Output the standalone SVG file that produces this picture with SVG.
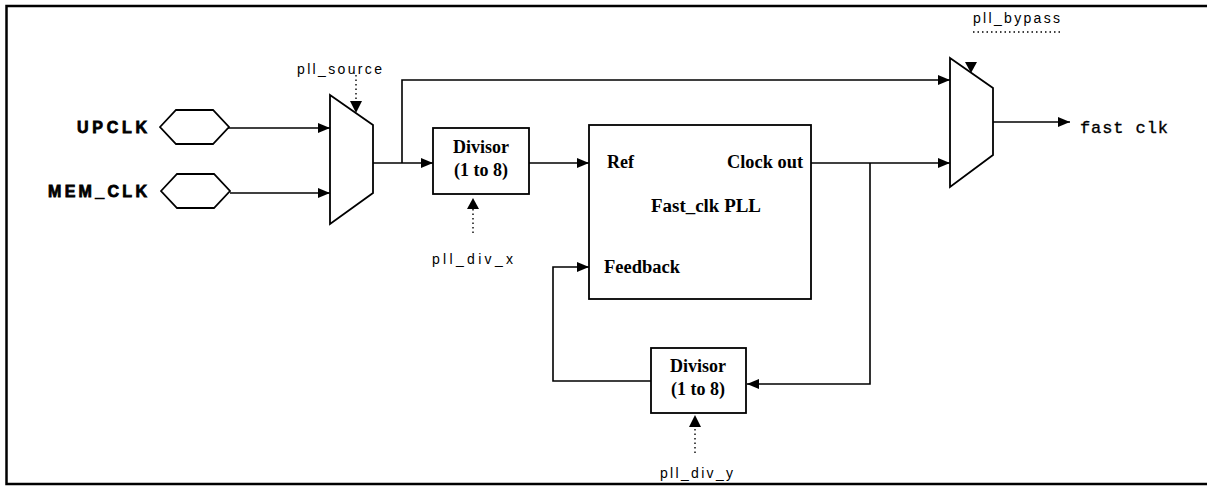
<svg xmlns="http://www.w3.org/2000/svg" width="1207" height="486" viewBox="0 0 1207 486">
<defs>
<style>
.ln{fill:none;stroke:#000;stroke-width:1.6}
.dot{fill:none;stroke:#000;stroke-width:1.4;stroke-dasharray:1.5,3}
.shape{fill:#fff;stroke:#000;stroke-width:1.8}
.sig{font-family:"Liberation Sans",Arial,sans-serif;font-weight:bold;font-size:16px;stroke:#000;stroke-width:0.8}
.ctl{font-family:"Liberation Sans",Arial,sans-serif;font-size:14px;fill:#000}
.blk{font-family:"Liberation Serif","Times New Roman",serif;font-weight:bold;font-size:18px;fill:#000}
.mono{font-family:"Liberation Mono","Courier New",monospace;font-size:17px;fill:#000;stroke:#000;stroke-width:0.35}
</style>
<marker id="arr" viewBox="0 0 12 10" refX="12" refY="5" markerWidth="12" markerHeight="10" orient="auto" markerUnits="userSpaceOnUse">
<path d="M0,0 L12,5 L0,10 z" fill="#000"/>
</marker>
</defs>
<rect width="1207" height="486" fill="#fff"/>
<rect x="6.5" y="6" width="1215" height="478" fill="none" stroke="#000" stroke-width="2.5"/>

<g id="connectors">
<path class="ln" d="M228,128 H330" marker-end="url(#arr)"/>
<path class="ln" d="M230,193 H330" marker-end="url(#arr)"/>
<path class="ln" d="M373,163 H433" marker-end="url(#arr)"/>
<path class="ln" d="M402,163 V80 H950" marker-end="url(#arr)"/>
<path class="ln" d="M529,163 H589" marker-end="url(#arr)"/>
<path class="ln" d="M811,163 H950" marker-end="url(#arr)"/>
<path class="ln" d="M870,163 V384 H747" marker-end="url(#arr)"/>
<path class="ln" d="M651,381 H553 V267 H589" marker-end="url(#arr)"/>
<path class="ln" d="M993,122 H1070" marker-end="url(#arr)"/>
<path class="dot" d="M356,75 V102"/>
<path d="M350,101 L362,101 L356,113 z" fill="#000"/>
<path class="dot" d="M473,233 V209"/>
<path d="M467,209 L479,209 L473,198 z" fill="#000"/>
<path class="dot" d="M695,453 V427"/>
<path d="M689,427 L701,427 L695,415 z" fill="#000"/>
<path class="dot" d="M973,32 H1061"/>
<path d="M965,62 L977,62 L971,73 z" fill="#000"/>
</g>

<g id="upclk">
<polygon class="shape" points="160,127 176,110 213,110 229,127 213,144 176,144"/>
<text class="sig" x="77" y="133" textLength="70" lengthAdjust="spacing">UPCLK</text>
</g>
<g id="memclk">
<polygon class="shape" points="161,191 177,174 214,174 230,191 214,208 177,208"/>
<text class="sig" x="48" y="197" textLength="99" lengthAdjust="spacing">MEM_CLK</text>
</g>
<g id="mux1">
<polygon class="shape" points="330,95 373,125 373,193 330,224"/>
<text class="ctl" x="297" y="74" textLength="85" lengthAdjust="spacing">pll_source</text>
</g>
<g id="divisor1">
<rect class="shape" x="433" y="128" width="96" height="66"/>
<text class="blk" x="481" y="153" text-anchor="middle">Divisor</text>
<text class="blk" x="481" y="176" text-anchor="middle">(1 to 8)</text>
<text class="ctl" x="432" y="264" textLength="81" lengthAdjust="spacing">pll_div_x</text>
</g>
<g id="pll">
<rect class="shape" x="589" y="125" width="222" height="174"/>
<text class="blk" x="607" y="168">Ref</text>
<text class="blk" x="727" y="168" textLength="76" lengthAdjust="spacingAndGlyphs">Clock out</text>
<text class="blk" x="651" y="212" textLength="110" lengthAdjust="spacingAndGlyphs">Fast_clk PLL</text>
<text class="blk" x="604" y="273" textLength="76" lengthAdjust="spacingAndGlyphs">Feedback</text>
</g>
<g id="divisor2">
<rect class="shape" x="651" y="348" width="95" height="65"/>
<text class="blk" x="698" y="372" text-anchor="middle">Divisor</text>
<text class="blk" x="698" y="395" text-anchor="middle">(1 to 8)</text>
<text class="ctl" x="660" y="478" textLength="73" lengthAdjust="spacing">pll_div_y</text>
</g>
<g id="mux2">
<polygon class="shape" points="950,58 993,88 993,155 950,187"/>
<text class="ctl" x="973" y="23" textLength="87" lengthAdjust="spacing">pll_bypass</text>
</g>
<g id="fastclk">
<text class="mono" x="1080" y="133" textLength="88" lengthAdjust="spacing">fast clk</text>
</g>
</svg>
